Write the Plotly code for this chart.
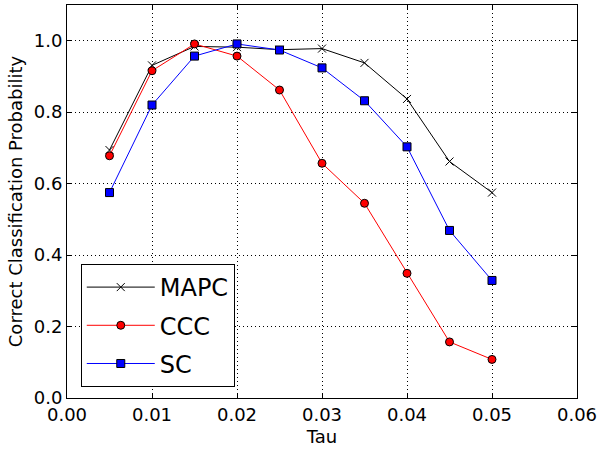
import plotly.graph_objects as go

tau = [0.005, 0.01, 0.015, 0.02, 0.025, 0.03, 0.035, 0.04, 0.045, 0.05]
mapc = [0.694, 0.931, 0.984, 0.982, 0.975, 0.978, 0.938, 0.837, 0.662, 0.575]
ccc = [0.678, 0.916, 0.991, 0.957, 0.862, 0.657, 0.545, 0.349, 0.157, 0.108]
sc = [0.575, 0.820, 0.957, 0.991, 0.974, 0.924, 0.832, 0.703, 0.469, 0.329]

x_ticks = [0.0, 0.01, 0.02, 0.03, 0.04, 0.05, 0.06]
x_tick_labels = ["0.00", "0.01", "0.02", "0.03", "0.04", "0.05", "0.06"]
y_ticks = [0.0, 0.2, 0.4, 0.6, 0.8, 1.0]
y_tick_labels = ["0.0", "0.2", "0.4", "0.6", "0.8", "1.0"]

FONT = "DejaVu Sans"

fig = go.Figure()
fig.add_trace(go.Scatter(
    x=tau, y=mapc, name="MAPC", mode="lines+markers", legendgroup="a",
    line=dict(color="black", width=1),
    marker=dict(symbol="x-thin", size=8, color="black",
                line=dict(color="black", width=1)),
))
fig.add_trace(go.Scatter(
    x=tau, y=ccc, name="CCC", mode="lines+markers", legendgroup="b",
    line=dict(color="red", width=1),
    marker=dict(symbol="circle", size=8, color="red",
                line=dict(color="black", width=1)),
))
fig.add_trace(go.Scatter(
    x=tau, y=sc, name="SC", mode="lines+markers", legendgroup="c",
    line=dict(color="blue", width=1),
    marker=dict(symbol="square", size=8, color="blue",
                line=dict(color="black", width=1)),
))

axis_common = dict(
    showline=True, linecolor="black", linewidth=1, mirror="ticks",
    ticks="inside", ticklen=5, tickcolor="black",
    showgrid=True, gridcolor="black", griddash="1px,3px", gridwidth=1,
    zeroline=False, automargin=False,
    tickfont=dict(family=FONT, size=18, color="black"),
)

fig.update_xaxes(
    range=[0, 0.06], tickvals=x_ticks, ticktext=x_tick_labels,
    title=dict(text="Tau", font=dict(family=FONT, size=18, color="black"), standoff=6),
    **axis_common,
)
fig.update_yaxes(
    range=[0, 1.1], tickvals=y_ticks, ticktext=y_tick_labels,
    title=dict(text="Correct Classification Probability",
               font=dict(family=FONT, size=18, color="black"), standoff=6),
    **axis_common,
)

fig.update_layout(
    width=601, height=450,
    margin=dict(l=67, r=24, t=5, b=52, autoexpand=False),
    plot_bgcolor="white", paper_bgcolor="white",
    font=dict(family=FONT, color="black"),
    hovermode=False,
    legend=dict(
        x=0.027, y=0.028, xanchor="left", yanchor="bottom",
        bgcolor="white", bordercolor="black", borderwidth=1,
        font=dict(family=FONT, size=24, color="black"),
        itemwidth=68, tracegroupgap=4,
    ),
)

fig.write_html(
    "out.html",
    config={"displayModeBar": False},
    post_script="document.body.style.margin='0';document.body.style.overflow='hidden';",
)
